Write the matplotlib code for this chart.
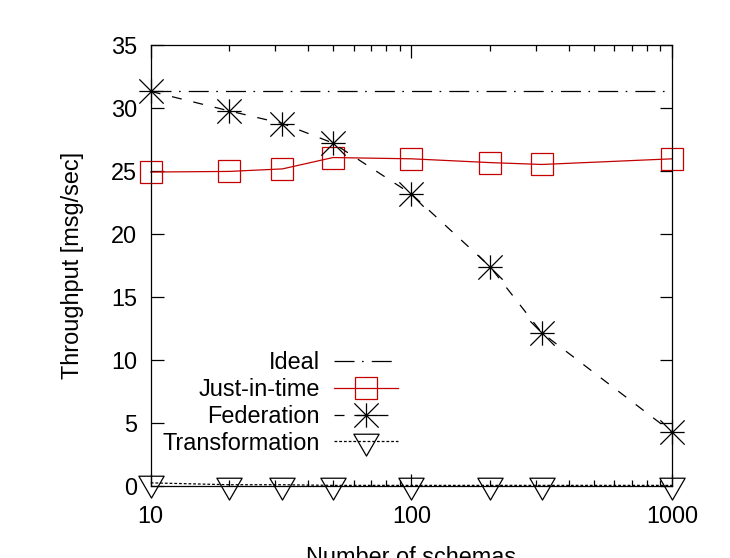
import matplotlib
matplotlib.use('Agg')
import matplotlib.pyplot as plt
from matplotlib.path import Path
from matplotlib.ticker import FixedLocator, FixedFormatter, LogLocator, NullFormatter

# data
schemas = [10, 20, 32, 50, 100, 200, 316, 1000]
ideal = [31.3, 31.3, 31.3, 31.3, 31.3, 31.3, 31.3, 31.3]
just_in_time = [24.9, 24.95, 25.15, 26.05, 25.95, 25.65, 25.5, 25.95]
federation = [31.3, 29.75, 28.75, 27.2, 23.15, 17.4, 12.15, 4.25]
transformation = [0.25, 0.1, 0.1, 0.05, 0.05, 0.05, 0.05, 0.05]

xtick_vals = [10, 100, 1000]
xtick_labels = ['10', '100', '1000']
ytick_vals = [0, 5, 10, 15, 20, 25, 30, 35]

plt.rcParams['font.family'] = ['Liberation Sans', 'DejaVu Sans']
plt.rcParams['font.size'] = 16.9
plt.rcParams['lines.scale_dashes'] = False

# gnuplot style asterisk (+ and x overlaid)
asterisk = Path(
    [(-1, 0), (1, 0), (0, -1), (0, 1), (-1, -1), (1, 1), (-1, 1), (1, -1)],
    [Path.MOVETO, Path.LINETO] * 4)
# open triangle pointing down, centred on its centroid
tri_down = Path(
    [(-1, 0.577), (1, 0.577), (0, -1.155), (-1, 0.577)],
    [Path.MOVETO, Path.LINETO, Path.LINETO, Path.CLOSEPOLY])

red = '#c40000'

fig = plt.figure(figsize=(7.3, 5.58), dpi=100)
ax = fig.add_axes([150.7 / 730, 72 / 558, 521.6 / 730, 441.3 / 558])

ax.plot(schemas, ideal, color='black', lw=0.9,
        dashes=(14.4, 5.4, 1.2, 5.8), label='Ideal')
ax.plot(schemas, just_in_time, color=red, lw=0.9, marker='s', ms=16,
        mfc='none', mec=red, mew=0.9, label='Just-in-time', clip_on=False)
ax.plot(schemas, federation, color='black', lw=0.9, dashes=(7.2, 8.6),
        marker=asterisk, ms=17.5, mew=0.9, label='Federation', clip_on=False)
ax.plot(schemas, transformation, color='black', lw=0.9, dashes=(2.0, 1.4),
        marker=tri_down, ms=21, mfc='none', mec='black', mew=0.9,
        label='Transformation', clip_on=False)

ax.set_xscale('log')
ax.set_xlim(10, 1000)
ax.set_ylim(0, 35)
ax.xaxis.set_major_locator(FixedLocator(xtick_vals))
ax.xaxis.set_major_formatter(FixedFormatter(xtick_labels))
ax.xaxis.set_minor_locator(LogLocator(base=10, subs=range(2, 10)))
ax.xaxis.set_minor_formatter(NullFormatter())
ax.set_yticks(ytick_vals)

ax.tick_params(which='both', direction='in', top=True, right=True, width=0.9)
ax.tick_params(which='major', length=9)
ax.tick_params(which='minor', length=4.5)
ax.tick_params(axis='x', which='major', pad=13.5)
ax.tick_params(axis='y', which='major', pad=10)
for s in ax.spines.values():
    s.set_linewidth(0.9)

ax.set_xlabel('Number of schemas', labelpad=13)
ax.set_ylabel('Throughput [msg/sec]', labelpad=19)

ax.legend(loc='upper right', bbox_to_anchor=(0.475, 0.305), frameon=False,
          markerfirst=False, numpoints=1, handlelength=2.75,
          handletextpad=0.6, labelspacing=0.16, borderpad=0,
          borderaxespad=0)

fig.savefig('out.png', dpi=100)
